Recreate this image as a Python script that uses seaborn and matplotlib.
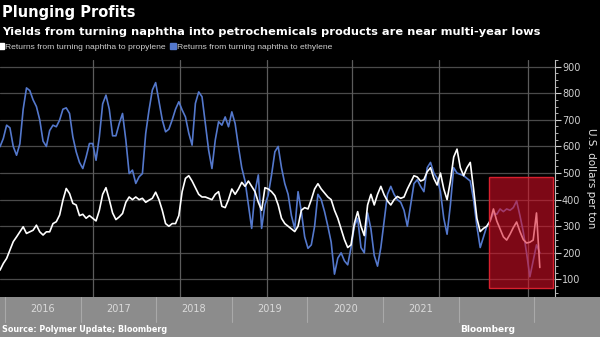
import numpy as np
import pandas as pd
import matplotlib
matplotlib.use("Agg")
import matplotlib.pyplot as plt
import matplotlib.transforms as mtransforms
from matplotlib.patches import Rectangle
from matplotlib.lines import Line2D
from matplotlib.ticker import MultipleLocator
import seaborn as sns

# ---------------- data (US$ per ton) ----------------
propylene = [
    135, 160, 179, 210, 242, 260, 279, 298, 273, 279,
    285, 304, 279, 267, 279, 279, 310, 317, 342, 398,
    442, 423, 386, 380, 340, 345, 330, 340, 330, 320,
    360, 420, 445, 400, 350, 325, 335, 348, 390, 410,
    400, 410, 400, 405, 390, 398, 405, 428, 400, 360,
    310, 300, 310, 310, 340, 430, 480, 490, 470, 445,
    420, 410, 410, 405, 400, 420, 430, 375, 370, 400,
    440, 420, 440, 465, 450, 470, 450, 430, 390, 360,
    445, 440, 430, 415, 380, 330, 310, 300, 290, 280,
    300, 360, 370, 365, 400, 440, 460, 440, 425, 410,
    400, 360, 330, 290, 250, 220, 230, 310, 355, 300,
    265, 380, 420, 380, 420, 450, 418, 395, 380, 400,
    412, 405, 410, 440, 465, 490, 485, 470, 475, 505,
    520, 480, 455, 500, 440, 400, 470, 560, 590, 520,
    490, 520, 540, 440, 330, 280, 292, 300, 320, 365,
    320, 290, 260, 248, 270, 295, 316, 280, 250, 237,
    240, 248, 350, 145,
]
ethylene = [
    599, 630, 680, 670, 600, 567, 610, 740, 820, 810,
    775, 750, 700, 620, 600, 660, 680, 674, 699, 740,
    745, 724, 636, 580, 540, 517, 560, 611, 611, 548,
    636, 760, 793, 740, 640, 640, 686, 724, 624, 498,
    511, 461, 486, 498, 649, 737, 812, 840, 770, 700,
    655, 665, 700, 740, 768, 737, 711, 650, 605, 762,
    805, 787, 686, 586, 517, 624, 693, 680, 711, 674,
    730, 686, 599, 520, 470, 380, 292, 430, 493, 292,
    380, 418, 493, 580, 600, 520, 460, 420, 340, 290,
    430, 355, 260, 217, 230, 300, 420, 400, 355, 300,
    240, 120, 180, 200, 170, 155, 220, 300, 330, 220,
    200, 350, 290, 190, 150, 220, 320, 420, 450, 420,
    400, 390, 360, 300, 380, 460, 475, 450, 430, 520,
    540, 500, 480, 430, 330, 270, 380, 520, 500, 495,
    490, 480, 470, 400, 300, 220, 260, 300, 320, 350,
    345, 365, 355, 365, 360, 370, 395, 340, 280, 200,
    110, 170, 230, 200,
]
series_names = ["Returns from turning naphtha to propylene",
                "Returns from turning naphtha to ethylene"]
year_labels = ["2016", "2017", "2018", "2019", "2020", "2021"]
y_ticks = [100, 200, 300, 400, 500, 600, 700, 800, 900]
highlight_low, highlight_high = 68, 485

# ---------------- styling ----------------
WHITE = "#ffffff"
BLUE = "#5478cc"
sns.set_theme(style="dark")
plt.rcParams["font.family"] = ["DejaVu Sans"]

n = len(propylene)
dates = pd.date_range("2015-12-08", periods=n, freq="16D")
df = pd.DataFrame({
    "date": list(dates) * 2,
    "value": propylene + ethylene,
    "series": [series_names[0]] * n + [series_names[1]] * n,
})

W, H = 600, 337
fig = plt.figure(figsize=(W / 100, H / 100), dpi=100, facecolor="black")

t0 = pd.Timestamp("2015-12-08")
px_per_day = 75.6 / 365.25

def px_to_date(px):
    return t0 + pd.Timedelta(days=px / px_per_day)

# main plot
ax = fig.add_axes([0, 1 - 297 / H, 555 / W, (297 - 60) / H])
ax.set_facecolor("black")
sns.lineplot(data=df, x="date", y="value", hue="series",
             hue_order=[series_names[1], series_names[0]],
             palette={series_names[0]: WHITE, series_names[1]: BLUE},
             linewidth=1.2, ax=ax, legend=False)
ax.set_xlim(px_to_date(0), px_to_date(555))
ax.set_ylim(34, 925)
ax.set_xlabel("")
ax.set_ylabel("U.S. dollars per ton", color="#e6e6e6", fontsize=7.5,
              rotation=270, labelpad=11)
ax.yaxis.set_label_position("right")
ax.yaxis.tick_right()
ax.set_yticks(y_ticks)
ax.yaxis.set_minor_locator(MultipleLocator(25))
ax.tick_params(axis="y", which="major", colors="#cfcfcf", labelsize=7,
               length=4, width=0.8, direction="out", pad=1, right=True, left=False)
ax.tick_params(axis="y", which="minor", colors="#cfcfcf", length=2, width=0.6,
               right=True, left=False)
ax.tick_params(axis="x", bottom=False, labelbottom=False)
ax.grid(False)
for yv in y_ticks:
    ax.axhline(yv, color="#4a4a4a", lw=0.9, zorder=0)
for fx in [93, 180, 267, 352, 439, 528]:
    ax.plot([fx / 555, fx / 555], [0, 1], transform=ax.transAxes,
            color="#5c5c5c", lw=0.9, zorder=0)
for s in ["top", "left", "bottom"]:
    ax.spines[s].set_visible(False)
ax.spines["right"].set_color("#bdbdbd")
ax.spines["right"].set_linewidth(0.8)

# highlight box
trans = mtransforms.blended_transform_factory(ax.transAxes, ax.transData)
ax.add_patch(Rectangle((489 / 555, highlight_low), (553 - 489) / 555,
                       highlight_high - highlight_low, transform=trans,
                       facecolor=(0.85, 0.06, 0.15, 0.58),
                       edgecolor="#d8202e", lw=1.0, zorder=5))

# bottom band with years
axb = fig.add_axes([0, 0, 1, 40 / H])
axb.set_facecolor("#8a8a8a")
axb.set_xlim(px_to_date(0), px_to_date(600))
axb.set_ylim(0, 1)
axb.axis("off")
axb.add_patch(Rectangle((0, 0), 1, 1, transform=axb.transAxes,
                        facecolor="#8c8c8c", edgecolor="none", zorder=0))
for yr in range(2016, 2024):
    axb.axvline(pd.Timestamp(f"{yr}-01-01"), ymin=15 / 40, ymax=1,
                color="#a9a9a9", lw=0.8)
for lab in year_labels:
    axb.text(pd.Timestamp(f"{lab}-07-02"), 1 - 12 / 40, lab, ha="center",
             va="center", color="#dadada", fontsize=7)

# texts
fig.text(0.004, 1 - 13 / H, "Plunging Profits", color="white", fontsize=10.5,
         fontweight="bold", va="center", ha="left")
fig.text(0.004, 1 - 32 / H,
         "Yields from turning naphtha into petrochemicals products are near multi-year lows",
         color="white", fontsize=8.2, fontweight="bold", va="center", ha="left")
fig.text(0.004, 8 / H, "Source: Polymer Update; Bloomberg", color="white",
         fontsize=5.8, fontweight="bold", va="center", ha="left")
fig.text(0.858, 8 / H, "Bloomberg", color="white", fontsize=6.5,
         fontweight="bold", va="center", ha="right")

handles = [Line2D([], [], marker="s", ls="", color=WHITE, markersize=4),
           Line2D([], [], marker="s", ls="", color=BLUE, markersize=4)]
leg = fig.legend(handles, series_names, loc="center left",
                 bbox_to_anchor=(-0.004, 1 - 47 / H), bbox_transform=fig.transFigure,
                 ncol=2, frameon=False, handlelength=0.7, handletextpad=0.15,
                 columnspacing=0.5, borderpad=0, borderaxespad=0,
                 prop={"family": "Liberation Sans", "size": 6.1})
for t in leg.get_texts():
    t.set_color("#cfcfcf")

fig.savefig("out.png", dpi=100, facecolor="black")
